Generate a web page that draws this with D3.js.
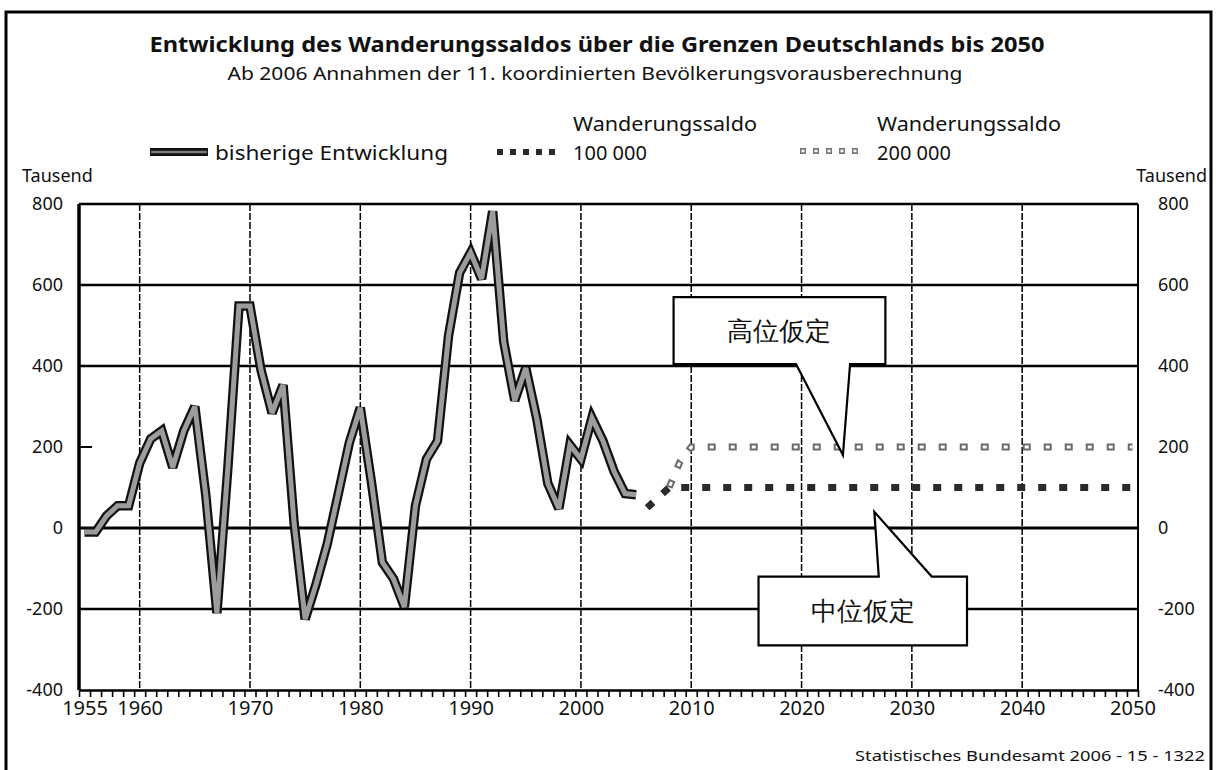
<!DOCTYPE html>
<html>
<head>
<meta charset="utf-8">
<script src="https://cdn.jsdelivr.net/npm/d3@7"></script>
<style>
  body { margin: 0; background: #fff; }
  text { font-family: "Noto Sans", "Open Sans", sans-serif; fill: #111; }
</style>
</head>
<body>
<div id="chart"></div>
<script>
// historical net migration (Tausend), 1955-2005
const histYears = d3.range(1955, 2006);
const histValues = [
  -10, -10, 30, 55, 55,            // 1955-1959
  160, 220, 240, 150, 240, 300, 80, -210, 150, 548,   // 1960-1969
  548, 390, 284, 353, 12, -225, -138, -40, 84, 210,   // 1970-1979
  297, 115, -85, -125, -195, 55, 170, 215, 475, 630,  // 1980-1989
  680, 615, 782, 460, 315, 395, 270, 110, 48, 205,    // 1990-1999
  170, 272, 215, 140, 85, 82                          // 2000-2005
];
// projections: only the turning points, the line is flat after them
const proj100Years = [2006, 2007, 2008, 2050];
const proj100Values = [50, 75, 100, 100];
const proj200Years = [2008, 2009, 2010, 2050];
const proj200Values = [100, 165, 200, 200];

const yTicks = [-400, -200, 0, 200, 400, 600, 800];
const yGrid = [600, 400, 0, -200];
const xLabels = [1955, 1960, 1970, 1980, 1990, 2000, 2010, 2020, 2030, 2040, 2050];
const xGrid = [1960, 1970, 1980, 1990, 2000, 2010, 2020, 2030, 2040];

const W = 1216, H = 770;
const svg = d3.select("#chart").append("svg")
  .attr("width", W).attr("height", H);

const x = d3.scaleLinear().domain([1954.5, 2050.5]).range([79, 1138]);
const y = d3.scaleLinear().domain([-400, 800]).range([690, 204]);

// outer frame (bottom is cut off by the picture)
svg.append("path")
  .attr("d", "M6,770 L6,12 L1211,12 L1211,770")
  .attr("fill", "none").attr("stroke", "#000").attr("stroke-width", 3);

// titles
svg.append("text").attr("x", 597).attr("y", 52).attr("text-anchor", "middle")
  .attr("font-size", 21).attr("font-weight", "bold")
  .attr("textLength", 895).attr("lengthAdjust", "spacingAndGlyphs")
  .text("Entwicklung des Wanderungssaldos über die Grenzen Deutschlands bis 2050");
svg.append("text").attr("x", 595).attr("y", 80).attr("text-anchor", "middle")
  .attr("font-size", 18)
  .attr("textLength", 735).attr("lengthAdjust", "spacingAndGlyphs")
  .text("Ab 2006 Annahmen der 11. koordinierten Bevölkerungsvorausberechnung");

// grid
const grid = svg.append("g");
grid.selectAll(".vg").data(xGrid).enter().append("line")
  .attr("x1", d => x(d)).attr("x2", d => x(d))
  .attr("y1", y(800)).attr("y2", y(-400))
  .attr("stroke", "#000").attr("stroke-width", 1.5)
  .attr("stroke-dasharray", "7,2");
grid.selectAll(".hg").data(yGrid).enter().append("line")
  .attr("x1", x.range()[0]).attr("x2", x.range()[1])
  .attr("y1", d => y(d)).attr("y2", d => y(d))
  .attr("stroke", "#000").attr("stroke-width", d => d === 0 ? 3.2 : 2.4);
// short tick at 200 on the left axis
grid.append("line")
  .attr("x1", x.range()[0]).attr("x2", x.range()[0] + 13)
  .attr("y1", y(200)).attr("y2", y(200))
  .attr("stroke", "#000").attr("stroke-width", 2);

// plot frame
grid.append("line").attr("x1", x.range()[0]).attr("x2", x.range()[1])
  .attr("y1", y(800)).attr("y2", y(800)).attr("stroke", "#000").attr("stroke-width", 2.4);
grid.append("line").attr("x1", x.range()[1]).attr("x2", x.range()[1])
  .attr("y1", y(800)).attr("y2", y(-400)).attr("stroke", "#000").attr("stroke-width", 2);
grid.append("line").attr("x1", x.range()[0]).attr("x2", x.range()[0])
  .attr("y1", y(800)).attr("y2", y(-400)).attr("stroke", "#000").attr("stroke-width", 3.5);

// x axis: year tick marks + labels
const xTickAxis = d3.axisBottom(x)
  .tickValues(d3.range(1954.5, 2051, 1)).tickFormat("").tickSize(7).tickSizeOuter(0);
const gx = svg.append("g").attr("transform", `translate(0,${y(-400)})`).call(xTickAxis);
gx.select(".domain").attr("stroke-width", 2.6);
gx.selectAll(".tick line").attr("stroke-width", 1.6);

const xLabelAxis = d3.axisBottom(x).tickValues(xLabels).tickFormat(d3.format("d")).tickSize(0);
const gxl = svg.append("g").attr("transform", `translate(0,${y(-400) + 8})`).call(xLabelAxis);
gxl.select(".domain").remove();
gxl.selectAll("text").attr("font-size", 20).attr("font-family", "Noto Sans").attr("fill", "#111");

// y axes labels
const gyl = svg.append("g").attr("transform", "translate(66,0)")
  .call(d3.axisLeft(y).tickValues(yTicks).tickSize(0));
gyl.select(".domain").remove();
gyl.selectAll("text").attr("font-size", 18).attr("font-family", "Noto Sans").attr("fill", "#111")
  .text(d => d < 0 ? "-" + Math.abs(d) : d);
const gyr = svg.append("g").attr("transform", "translate(1155,0)")
  .call(d3.axisRight(y).tickValues(yTicks).tickSize(0));
gyr.select(".domain").remove();
gyr.selectAll("text").attr("font-size", 18).attr("font-family", "Noto Sans").attr("fill", "#111")
  .text(d => d < 0 ? "-" + Math.abs(d) : d);

svg.append("text").attr("x", 22).attr("y", 182).attr("font-size", 18).text("Tausend");
svg.append("text").attr("x", 1207).attr("y", 182).attr("font-size", 18)
  .attr("text-anchor", "end").text("Tausend");

// lines
const line = d3.line().x(d => x(d[0])).y(d => y(d[1]));
const hist = d3.zip(histYears, histValues);
const p100 = d3.zip(proj100Years, proj100Values);
const p200 = d3.zip(proj200Years, proj200Values);

const plot = svg.append("g");
plot.append("path").attr("d", line(hist)).attr("fill", "none")
  .attr("stroke", "#111").attr("stroke-width", 9.5)
  .attr("stroke-linejoin", "miter").attr("stroke-miterlimit", 3);
plot.append("path").attr("d", line(hist)).attr("fill", "none")
  .attr("stroke", "#9c9c9c").attr("stroke-width", 5)
  .attr("stroke-linejoin", "miter").attr("stroke-miterlimit", 3);

// 200 000 scenario: hollow squares
plot.append("path").attr("d", line(p200)).attr("fill", "none")
  .attr("stroke", "#6a6a6a").attr("stroke-width", 7).attr("stroke-dasharray", "8,13");
plot.append("path").attr("d", line(p200)).attr("fill", "none")
  .attr("stroke", "#fff").attr("stroke-width", 3)
  .attr("stroke-dasharray", "4,17").attr("stroke-dashoffset", -2);
// 100 000 scenario: dark squares
plot.append("path").attr("d", line(p100)).attr("fill", "none")
  .attr("stroke", "#2a2a2a").attr("stroke-width", 7).attr("stroke-dasharray", "8,13");

// legend
const lg = svg.append("g");
lg.append("line").attr("x1", 150).attr("x2", 208).attr("y1", 152).attr("y2", 152)
  .attr("stroke", "#111").attr("stroke-width", 8);
lg.append("line").attr("x1", 151).attr("x2", 207).attr("y1", 152).attr("y2", 152)
  .attr("stroke", "#7a7a7a").attr("stroke-width", 2.5);
lg.append("text").attr("x", 215).attr("y", 160).attr("font-size", 20)
  .attr("textLength", 233).attr("lengthAdjust", "spacingAndGlyphs")
  .text("bisherige Entwicklung");

lg.append("line").attr("x1", 497).attr("x2", 560).attr("y1", 152).attr("y2", 152)
  .attr("stroke", "#2a2a2a").attr("stroke-width", 6).attr("stroke-dasharray", "6,7");
lg.append("text").attr("x", 573).attr("y", 131).attr("font-size", 20)
  .attr("textLength", 184).attr("lengthAdjust", "spacingAndGlyphs").text("Wanderungssaldo");
lg.append("text").attr("x", 573).attr("y", 160).attr("font-size", 20).text("100 000");

lg.append("line").attr("x1", 800).attr("x2", 863).attr("y1", 151).attr("y2", 151)
  .attr("stroke", "#777").attr("stroke-width", 6).attr("stroke-dasharray", "6,7");
lg.append("line").attr("x1", 800).attr("x2", 863).attr("y1", 151).attr("y2", 151)
  .attr("stroke", "#fff").attr("stroke-width", 2.5)
  .attr("stroke-dasharray", "3,10").attr("stroke-dashoffset", -1.5);
lg.append("text").attr("x", 877).attr("y", 131).attr("font-size", 20)
  .attr("textLength", 184).attr("lengthAdjust", "spacingAndGlyphs").text("Wanderungssaldo");
lg.append("text").attr("x", 877).attr("y", 160).attr("font-size", 20).text("200 000");

// callouts
function callout(box, base, tip, label, pointerDown) {
  const l = x(box[0]), r = x(box[1]), t = y(box[2]), b = y(box[3]);
  const bl = x(base[0]), br = x(base[1]);
  const tx = x(tip[0]), ty = y(tip[1]);
  const d = pointerDown
    ? `M${l},${t}L${r},${t}L${r},${b}L${br},${b}L${tx},${ty}L${bl},${b}L${l},${b}Z`
    : `M${l},${t}L${bl},${t}L${tx},${ty}L${br},${t}L${r},${t}L${r},${b}L${l},${b}Z`;
  svg.append("path").attr("d", d).attr("fill", "#fff")
    .attr("stroke", "#000").attr("stroke-width", 2.2).attr("stroke-linejoin", "miter");
  svg.append("text").attr("x", (l + r) / 2).attr("y", (t + b) / 2 + 9)
    .attr("text-anchor", "middle").attr("font-size", 26)
    .attr("font-family", "Noto Sans CJK JP").text(label);
}
callout([2008.4, 2027.6, 570, 405], [2019.5, 2024.4], [2023.75, 180], "高位仮定", true);
callout([2016.1, 2035.0, -120, -290], [2027.0, 2031.8], [2026.6, 40], "中位仮定", false);

// source
svg.append("text").attr("x", 1205).attr("y", 761).attr("text-anchor", "end")
  .attr("font-size", 14).attr("fill", "#333")
  .attr("textLength", 350).attr("lengthAdjust", "spacingAndGlyphs")
  .text("Statistisches Bundesamt 2006 - 15 - 1322");
</script>
</body>
</html>
